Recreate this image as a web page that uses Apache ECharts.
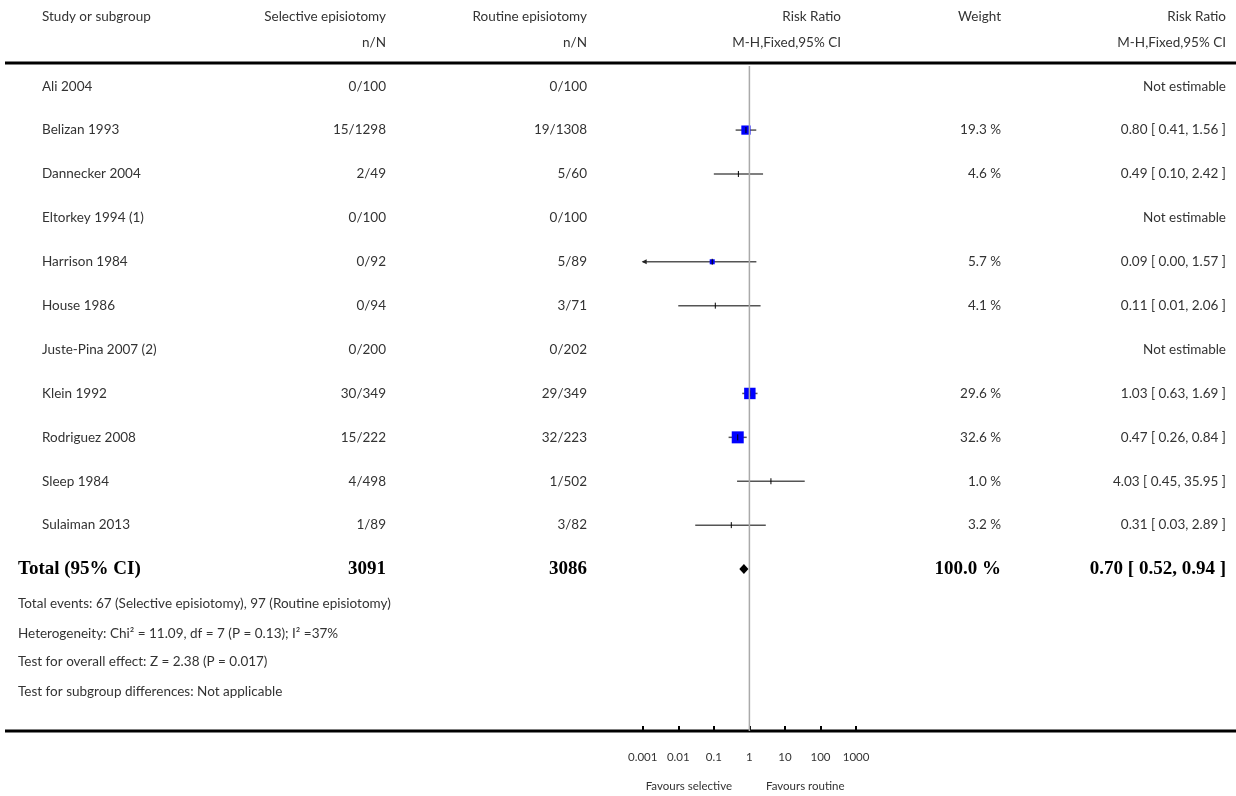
<!DOCTYPE html>
<html><head><meta charset="utf-8">
<script src="https://cdn.jsdelivr.net/npm/echarts@6/dist/echarts.min.js"></script>
<style>html,body{margin:0;padding:0;background:#fff}#c{width:1236px;height:796px}</style>
</head><body><div id="c"></div>
<script>
const studies = ['Ali 2004','Belizan 1993','Dannecker 2004','Eltorkey 1994 (1)','Harrison 1984','House 1986','Juste-Pina 2007 (2)','Klein 1992','Rodriguez 2008','Sleep 1984','Sulaiman 2013'];
const selective = ['0/100','15/1298','2/49','0/100','0/92','0/94','0/200','30/349','15/222','4/498','1/89'];
const routine = ['0/100','19/1308','5/60','0/100','5/89','3/71','0/202','29/349','32/223','1/502','3/82'];
const rr =    [null,0.80,0.49,null,0.09,0.11,null,1.03,0.47,4.03,0.31];
const lower = [null,0.41,0.10,null,0.00,0.01,null,0.63,0.26,0.45,0.03];
const upper = [null,1.56,2.42,null,1.57,2.06,null,1.69,0.84,35.95,2.89];
const weight = [null,19.3,4.6,null,5.7,4.1,null,29.6,32.6,1.0,3.2];
const total = {label:'Total (95% CI)', sel:'3091', rou:'3086', weight:'100.0 %', rr:0.70, lo:0.52, hi:0.94};
const footnotes = ['Total events: 67 (Selective episiotomy), 97 (Routine episiotomy)',
 'Heterogeneity: Chi² = 11.09, df = 7 (P = 0.13); I² =37%',
 'Test for overall effect: Z = 2.38 (P = 0.017)',
 'Test for subgroup differences: Not applicable'];
const xTicks = [0.001,0.01,0.1,1,10,100,1000];
const xTickLabels = ['0.001','0.01','0.1','1','10','100','1000'];

const F = 'Lato, "Open Sans", sans-serif';
const C = '#333';
const chart = echarts.init(document.getElementById('c'));
const fmt = v => v.toFixed(2);
const minX = 0.001, maxX = 1000;

const rowData = studies.map((s,i)=>[i]);
rowData.push([11]);

function renderRow(params, api){
  const i = api.value(0);
  const y = api.coord([1,i])[1];
  const kids = [];
  const isT = i === 11;
  const txt = (x, t, align, bold) => ({type:'text', style:{x, y, text:t, align, verticalAlign:'middle',
    font: bold ? 'bold 19px "Liberation Serif", serif' : '13.5px '+F, fill: bold ? '#000' : C}});
  if (!isT) {
    kids.push(txt(42, studies[i], 'left'));
    kids.push(txt(386, selective[i], 'right'));
    kids.push(txt(587, routine[i], 'right'));
    if (rr[i] == null) { kids.push(txt(1226, 'Not estimable', 'right')); }
    else {
      kids.push(txt(1001, weight[i].toFixed(1)+' %', 'right'));
      kids.push(txt(1226, fmt(rr[i])+' [ '+fmt(lower[i])+', '+fmt(upper[i])+' ]', 'right'));
      const lo = Math.max(lower[i], minX), hi = Math.min(upper[i], maxX);
      const x0 = api.coord([lo,i])[0], x1 = api.coord([hi,i])[0], xp = api.coord([rr[i],i])[0];
      kids.push({type:'line', shape:{x1:x0,y1:y,x2:x1,y2:y}, style:{stroke:'#555', lineWidth:1.5}});
      if (lower[i] < minX) kids.push({type:'polygon', shape:{points:[[x0-1,y],[x0+4,y-2.5],[x0+4,y+2.5]]}, style:{fill:'#222'}});
      if (weight[i] >= 5) {
        const s = 2.1*Math.sqrt(weight[i]);
        kids.push({type:'rect', shape:{x:xp-s/2,y:y-s/2,width:s,height:s}, style:{fill:'#0000ff'}});
      }
      kids.push({type:'line', shape:{x1:xp,y1:y-3,x2:xp,y2:y+3}, style:{stroke:'#000', lineWidth:1}});
    }
  } else {
    kids.push(txt(18, total.label, 'left', true));
    kids.push(txt(386, total.sel, 'right', true));
    kids.push(txt(587, total.rou, 'right', true));
    kids.push(txt(1001, total.weight, 'right', true));
    kids.push(txt(1226, fmt(total.rr)+' [ '+fmt(total.lo)+', '+fmt(total.hi)+' ]', 'right', true));
    const xl = api.coord([total.lo,i])[0], xh = api.coord([total.hi,i])[0], xp = api.coord([total.rr,i])[0];
    kids.push({type:'polygon', shape:{points:[[xl,y],[xp,y-5],[xh,y],[xp,y+5]]}, style:{fill:'#000'}});
  }
  return {type:'group', children:kids};
}

const hdr = (x,y,t,align)=>({type:'text', style:{x,y,text:t,align,verticalAlign:'middle',font:'13.5px '+F,fill:C}});
const graphics = [
  hdr(42,17,'Study or subgroup','left'), hdr(386,17,'Selective episiotomy','right'), hdr(587,17,'Routine episiotomy','right'),
  hdr(841,17,'Risk Ratio','right'), hdr(1001,17,'Weight','right'), hdr(1226,17,'Risk Ratio','right'),
  hdr(386,43,'n/N','right'), hdr(587,43,'n/N','right'), hdr(841,43,'M-H,Fixed,95% CI','right'), hdr(1226,43,'M-H,Fixed,95% CI','right'),
  {type:'line', shape:{x1:5,y1:63,x2:1236,y2:63}, style:{stroke:'#000',lineWidth:3}},
  {type:'line', shape:{x1:5,y1:731,x2:1236,y2:731}, style:{stroke:'#000',lineWidth:3}},
  {type:'text', style:{x:732,y:786,text:'Favours selective',align:'right',verticalAlign:'middle',font:'11.5px '+F,fill:C}},
  {type:'text', style:{x:766,y:786,text:'Favours routine',align:'left',verticalAlign:'middle',font:'11.5px '+F,fill:C}}
];
footnotes.forEach((t,k)=>graphics.push({type:'text', style:{x:18,y:[604,634,662,692][k],text:t,align:'left',verticalAlign:'middle',font:'13.5px '+F,fill:C}}));

chart.setOption({
  animation:false,
  grid:{left:642.7, width:213.4, top:66, height:665},
  xAxis:{type:'log', logBase:10, min:minX, max:maxX, position:'bottom', axisLine:{show:false, onZero:false},
    axisTick:{inside:true, length:5, lineStyle:{color:'#000',width:2}},
    splitLine:{show:false}, axisLabel:{margin:20, color:C, fontFamily:F, fontSize:11.5,
      formatter:v=>{const k=xTicks.findIndex(t=>Math.abs(Math.log10(t)-Math.log10(v))<1e-6);return k>=0?xTickLabels[k]:'';}}},
  yAxis:{type:'value', inverse:true, min:-0.46, max:14.69, show:false},
  series:[
    {type:'line', data:[[1,-0.46],[1,14.69]], symbol:'none', lineStyle:{color:'#aaa',width:1.5}, silent:true},
    {type:'custom', renderItem:renderRow, data:rowData, clip:false}
  ],
  graphic:graphics
});
</script></body></html>
